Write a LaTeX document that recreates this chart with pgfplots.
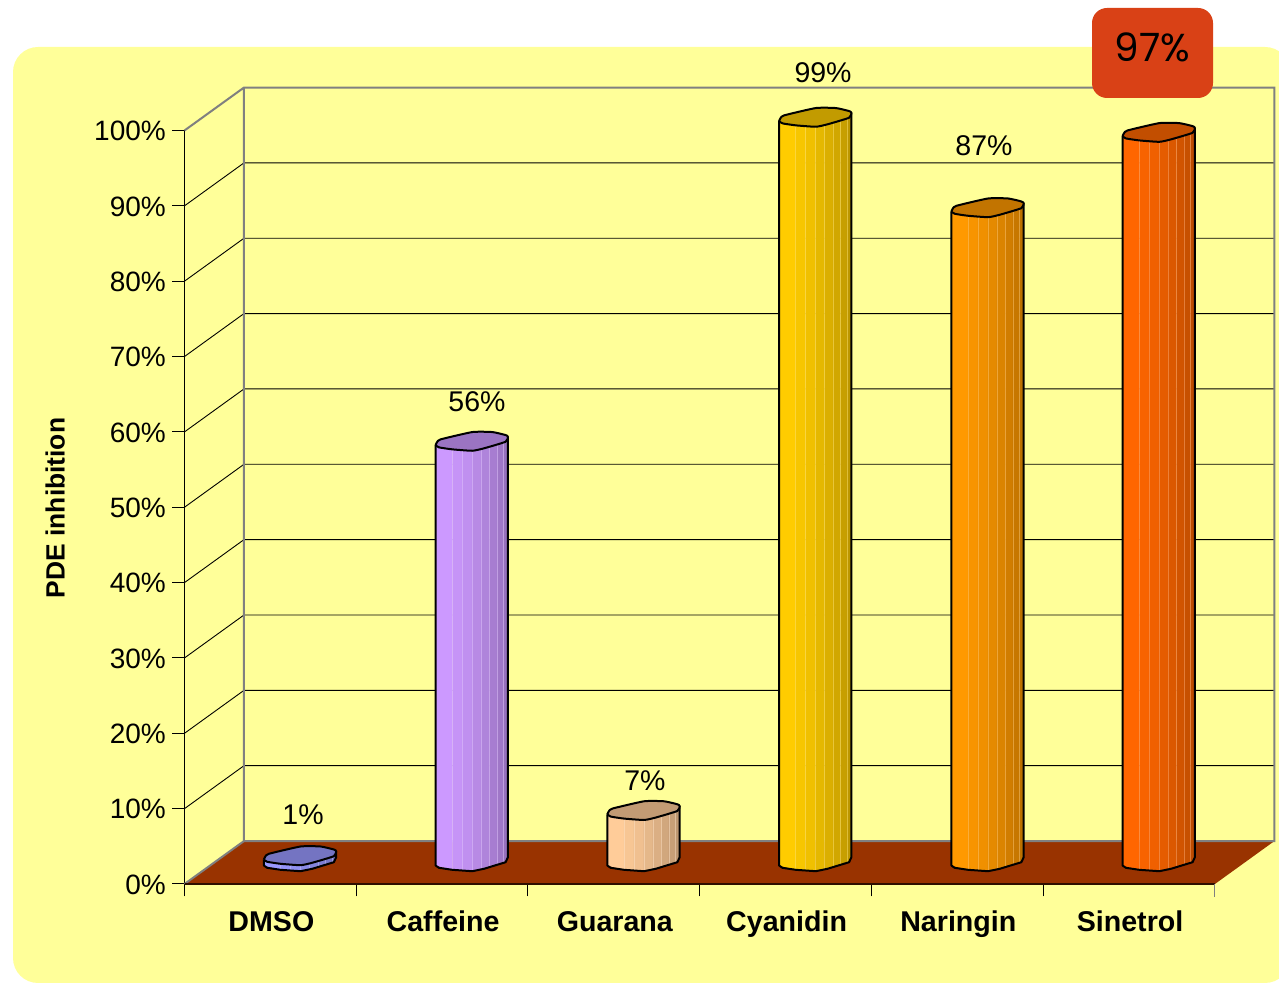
\documentclass[border=0pt]{standalone}
\usepackage{fontspec}
\setmainfont{Liberation Sans}
\newfontfamily\handfont{Poppins}
\usepackage{pgfplots}
\usepackage{pgfplotstable}
\pgfplotsset{compat=1.18}
\definecolor{bgY}{HTML}{FFFF99}
\definecolor{floorC}{HTML}{993300}
\definecolor{wallG}{HTML}{808080}
\definecolor{boxR}{HTML}{D94116}
\definecolor{cA}{HTML}{9999FF}
\definecolor{cB}{HTML}{CC99FF}
\definecolor{cC}{HTML}{FFCC99}
\definecolor{cD}{HTML}{FFCC00}
\definecolor{cE}{HTML}{FF9900}
\definecolor{cF}{HTML}{FF6600}
% top face outline, in pixels about the column's centre
\pgfplotstableread{
u f
-36 -4.5
-34.5 -1.5
-31 1.2
0.7 8.5
20.7 8.5
34 5.5
36.3 3.8
34 -1.2
12.3 -7.8
0.7 -10.2
-19.3 -8.8
-32.7 -6.8
-36 -4.5
}\topface
% outline of the column's sides: l=1 at the top, l=0 at the floor
\pgfplotstableread{
u f l
-36 -4.5 1
-36 -4.5 0
-32.7 -6.8 0
-19.3 -8.8 0
0.7 -10.2 0
12.3 -7.8 0
34 -1.2 0
36.3 3.8 0
36.3 3.8 1
}\sideline
\newcommand\strip[8]{%
 \addplot[fill=#1!#8!black,draw=#1!#8!black,line width=0.3pt,forget plot]
 table[row sep=\\,x expr=#2+\thisrow{u}/171.75,y expr=3.05+(#3-0.2)*\thisrow{l}+\thisrow{f}/7.535]
 {u f l\\ #4 #5 0\\ #4 #5 1\\ #6 #7 1\\ #6 #7 0\\ #4 #5 0\\};
 \addplot[#1!55!white,opacity=0.5,line width=0.6pt,forget plot]
 table[row sep=\\,x expr=#2+\thisrow{u}/171.75,y expr=3.05+(#3-0.2)*\thisrow{l}+\thisrow{f}/7.535]
 {u f l\\ #4 #5 0\\ #4 #5 1\\};}
\newcommand\cyl[3]{%
 \strip{#3}{#1}{#2}{-36}{-4.5}{-19.3}{-8.8}{100}%
 \strip{#3}{#1}{#2}{-19.3}{-8.8}{-9.5}{-9.5}{97}%
 \strip{#3}{#1}{#2}{-9.5}{-9.5}{0.5}{-10.2}{94}%
 \strip{#3}{#1}{#2}{0.5}{-10.2}{9.5}{-8.4}{90}%
 \strip{#3}{#1}{#2}{9.5}{-8.4}{18}{-6.1}{86}%
 \strip{#3}{#1}{#2}{18}{-6.1}{25.5}{-3.8}{82}%
 \strip{#3}{#1}{#2}{25.5}{-3.8}{32}{-1.8}{78}%
 \strip{#3}{#1}{#2}{32}{-1.8}{36.3}{3.8}{74}%
 \addplot[black,line width=2pt,line join=round,forget plot]
  table[x expr=#1+\thisrow{u}/171.75,y expr=3.05+(#2-0.2)*\thisrow{l}+\thisrow{f}/7.535]{\sideline};
 \addplot[fill=#3!76!black,draw=black,line width=2pt,line join=round,smooth,tension=0.3,forget plot]
  table[x expr=#1+\thisrow{u}/171.75,y expr=2.85+#2+\thisrow{f}/7.535]{\topface};
}
\begin{document}
\begin{tikzpicture}
\useasboundingbox (0,0) rectangle (1279pt,984pt);
\begin{scope}
\clip (0,0) rectangle (1279pt,984pt);
\fill[bgY,rounded corners=25pt] (13pt,1pt) rectangle (1290pt,937pt);
\end{scope}
\begin{axis}[
 at={(184.5pt,100pt)},anchor=south west,
 scale only axis,width=1030.5pt,height=753.5pt,
 xmin=0,xmax=6,ymin=0,ymax=100,clip=false,
 axis y line=left,axis x line=bottom,
 axis line style={-,black,line width=1pt},
 tick style={black,line width=1pt},
 tick align=outside,major tick length=12.5pt,
 xtick={0,1,2,3,4,5,6},x tick label as interval,
 xticklabels={DMSO,Caffeine,Guarana,Cyanidin,Naringin,Sinetrol},
 xticklabel style={font=\fontsize{28.6}{30}\selectfont\bfseries,inner sep=0pt,yshift=-15pt,xshift=1pt,text height=20pt,text depth=0pt},
 ytick={0,10,...,100},
 yticklabel={\pgfmathprintnumber{\tick}\%},
 /pgf/number format/assume math mode=true,
 yticklabel style={font=\fontsize{28}{30}\selectfont,inner sep=0pt,xshift=-6pt,yshift=-0.7pt},
 ylabel={PDE inhibition},
 ylabel style={font=\fontsize{26.4}{28}\selectfont\bfseries,at={(axis description cs:-0.1255,0.499)},anchor=center},
]
% floor
\addplot[fill=floorC,draw=none,forget plot] coordinates {(0,0)(6,0)(6.3464,5.7)(0.3464,5.7)(0,0)};
% back wall grid, with its return along the side wall
\pgfplotsinvokeforeach{10,20,30,40,50,60,70,80,90}{
 \addplot[black,line width=0.9pt,forget plot] table[row sep=\\,x=u,y expr=#1+\thisrow{v}]
  {u v\\ 0 0\\ 0.3464 5.7\\ 6.3464 5.7\\};
}
% wall edges
\addplot[wallG,line width=2pt,line join=miter,forget plot] coordinates {(0,100)(0.3464,105.7)(6.3464,105.7)(6.3464,5.7)(0.3464,5.7)(0.3464,105.7)};
\addplot[wallG,line width=2pt,forget plot] coordinates {(0,0)(0.3464,5.7)};
\addplot[black!70!floorC,line width=2pt,forget plot] coordinates {(0,0)(6,0)};
\addplot[wallG,line width=1pt,forget plot] coordinates {(6,0)(6,-1.66)};
% columns: centre, value, colour
\cyl{0.6718}{1}{cA}
\cyl{1.6718}{56}{cB}
\cyl{2.6718}{7}{cC}
\cyl{3.6718}{99}{cD}
\cyl{4.675}{87}{cE}
\cyl{5.6718}{97}{cF}
% data labels
\node[font=\fontsize{28.5}{30}\selectfont] at (axis cs:0.69,9.16) {1\%};
\node[font=\fontsize{28.5}{30}\selectfont] at (axis cs:1.703,63.97) {56\%};
\node[font=\fontsize{28.5}{30}\selectfont] at (axis cs:2.681,13.67) {7\%};
\node[font=\fontsize{28.5}{30}\selectfont] at (axis cs:3.718,107.7) {99\%};
\node[font=\fontsize{28.5}{30}\selectfont] at (axis cs:4.655,98.0) {87\%};
\end{axis}
\fill[boxR,rounded corners=15pt] (1092pt,886pt) rectangle (1213pt,976pt);
\node[font=\handfont\fontsize{39}{42}\selectfont] at (1152.5pt,937pt) {97\%};
\end{tikzpicture}
\end{document}
